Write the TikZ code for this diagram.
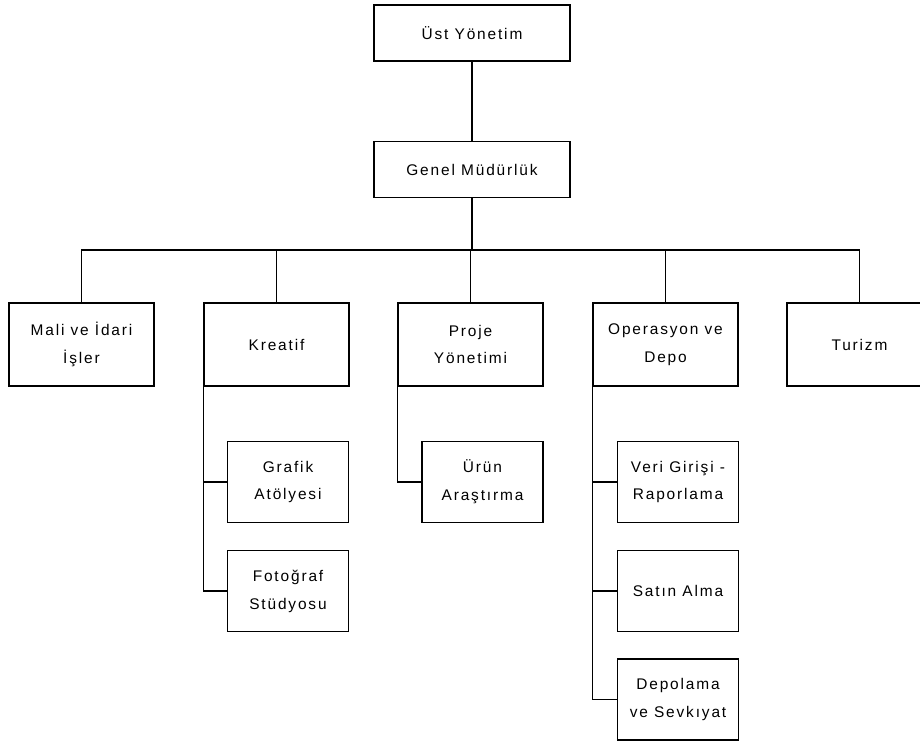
\documentclass[tikz,border=0pt]{standalone}
\usepackage{fontspec}
\setmainfont{Liberation Sans}[LetterSpace=12]
\begin{document}
\begin{tikzpicture}[x=1bp,y=-1bp,
  box/.style={draw=black, line width=1.4bp, fill=white, inner sep=0pt,
    align=center, font=\fontsize{15.5}{28}\selectfont},
  topbox/.style={box, minimum width=196bp, minimum height=56bp},
  unitbox/.style={box, minimum width=145bp, minimum height=83bp},
  subbox/.style={box, minimum width=121bp, minimum height=81bp},
  link/.style={draw=black, line width=1.4bp}]
\clip (0,0) rectangle (920,742);
\fill[white] (0,0) rectangle (920,742);

% top of the chart
\node[topbox] (ust) at (472,33) {Üst Yönetim};
\node[topbox] (genel) at (472,169.5) {Genel Müdürlük};

% departments
\node[unitbox] (mali) at (81.5,344.5) {Mali ve İdari\\İşler};
\node[unitbox] (kreatif) at (276.5,344.5) {Kreatif};
\node[unitbox] (proje) at (470.5,344.5) {Proje\\Yönetimi};
\node[unitbox] (oper) at (665.5,344.5) {Operasyon ve\\Depo};
\node[unitbox] (turizm) at (859.5,344.5) {Turizm};

% sub-units
\node[subbox] (grafik) at (288,482) {Grafik\\Atölyesi};
\node[subbox] (foto) at (288,591) {Fotoğraf\\Stüdyosu};
\node[subbox] (urun) at (482.5,482) {Ürün\\Araştırma};
\node[subbox] (veri) at (678,482) {Veri Girişi -\\Raporlama};
\node[subbox] (satin) at (678,591) {Satın Alma};
\node[subbox] (depolama) at (678,699.5) {Depolama\\ve Sevkıyat};

\coordinate (bus) at (472,250);

% main trunk and bus
\draw[link] (ust.south) -- (genel.north);
\draw[link] (genel.south) -- (bus);
\draw[link] (mali.north) |- (bus);
\draw[link] (turizm.north) |- (bus);
\draw[link] (kreatif.north) -- (kreatif.north |- bus);
\draw[link] (proje.north) -- (proje.north |- bus);
\draw[link] (oper.north) -- (oper.north |- bus);

% sub-unit spines
\draw[link] (kreatif.south west) |- (foto.west);
\draw[link] (kreatif.south west |- grafik.west) -- (grafik.west);
\draw[link] (proje.south west) |- (urun.west);
\draw[link] (oper.south west) |- (depolama.west);
\draw[link] (oper.south west |- veri.west) -- (veri.west);
\draw[link] (oper.south west |- satin.west) -- (satin.west);
\end{tikzpicture}
\end{document}
